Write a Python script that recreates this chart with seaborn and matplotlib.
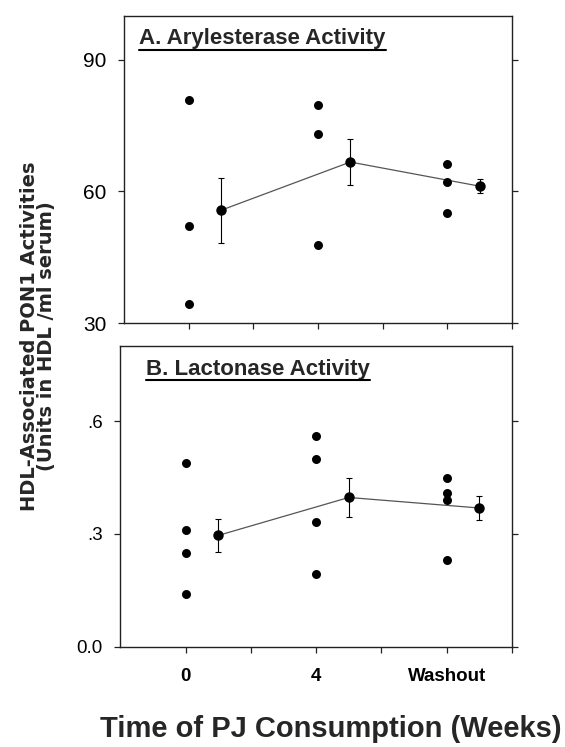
import pandas as pd
import seaborn as sns
import matplotlib.pyplot as plt
from matplotlib.lines import Line2D

# --- data ---
groups = ['0', '4', 'Washout']

aryl_week0 = [80.9, 52.1, 34.3]
aryl_week4 = [79.6, 73.1, 47.7]
aryl_washout = [66.3, 62.2, 55.1]
aryl_mean = [55.7, 66.7, 61.2]
aryl_se = [7.4, 5.3, 1.6]

lact_week0 = [0.488, 0.310, 0.248, 0.139]
lact_week4 = [0.561, 0.499, 0.332, 0.193]
lact_washout = [0.450, 0.410, 0.389, 0.230]
lact_mean = [0.296, 0.397, 0.369]
lact_se = [0.045, 0.053, 0.031]

sns.set_style('ticks')
plt.rcParams['font.family'] = ['Liberation Sans', 'DejaVu Sans']

fig = plt.figure(figsize=(5.65, 7.47), dpi=100)
ax_a = fig.add_axes([0.2195, 0.5676, 0.6865, 0.411])
ax_b = fig.add_axes([0.213, 0.1343, 0.693, 0.4025])


def panel(ax, raw, mean, se, ylim, yticks, yticklabels, ysize, title, tx, ty):
    # raw points at 1, 3, 5 ; group means shifted half a step right
    rows = []
    for i, vals in enumerate(raw):
        for v in vals:
            rows.append({'x': 2 * i + 1, 'y': v})
    df_raw = pd.DataFrame(rows)
    df_mean = pd.DataFrame({'x': [2 * i + 1.5 for i in range(len(mean))],
                            'y': mean, 'se': se})
    sns.scatterplot(data=df_raw, x='x', y='y', ax=ax, color='black',
                    s=42, edgecolor='black', linewidth=0, zorder=3)
    sns.lineplot(data=df_mean, x='x', y='y', ax=ax, color='#555555',
                 linewidth=0.9, zorder=2)
    ax.errorbar(df_mean['x'], df_mean['y'], yerr=df_mean['se'], fmt='o',
                color='black', ms=6.5, elinewidth=0.8, capsize=2.3,
                capthick=0.8, zorder=4)
    ax.set_xlim(0, 6)
    ax.set_ylim(*ylim)
    ax.set_xticks([1, 2, 3, 4, 5, 6])
    ax.set_yticks(yticks)
    ax.set_yticklabels(yticklabels, fontsize=ysize)
    ax.tick_params(axis='both', direction='out', length=4.5, width=0.9,
                   colors='#222222', labelcolor='black', right=True)
    ax.tick_params(axis='y', pad=8)
    for s in ax.spines.values():
        s.set_visible(True)
        s.set_linewidth(1.0)
        s.set_color('#222222')
    ax.set_xlabel('')
    ax.set_ylabel('')
    t = ax.text(tx, ty, title, transform=ax.transAxes, fontsize=16,
                fontweight='bold', ha='left', va='baseline')
    return t


t_a = panel(ax_a, [aryl_week0, aryl_week4, aryl_washout], aryl_mean, aryl_se,
            (30, 100), [30, 60, 90], ['30', '60', '90'], 15,
            'A. Arylesterase Activity', 0.039, 0.908)
t_b = panel(ax_b, [lact_week0, lact_week4, lact_washout], lact_mean, lact_se,
            (0, 0.8), [0.0, 0.3, 0.6], ['0.0', '.3', '.6'], 13.5,
            'B. Lactonase Activity', 0.065, 0.9036)

ax_a.set_xticklabels([])
ax_b.set_xticklabels(['0', '', '4', '', 'Washout', ''], fontsize=13.5,
                     fontweight='bold')
ax_b.tick_params(axis='x', pad=11)

fig.text(0.067, 0.55, 'HDL-Associated PON1 Activities\n(Units in HDL /ml serum)',
         rotation=90, ha='center', va='center', fontsize=14,
         fontweight='bold', family='DejaVu Sans', linespacing=0.88)
fig.text(0.585, 0.0134, 'Time of PJ Consumption (Weeks)', ha='center',
         va='baseline', fontsize=21, fontweight='bold')

# underline the panel titles
fig.canvas.draw()
r = fig.canvas.get_renderer()
W, H = fig.bbox.width, fig.bbox.height
for t in (t_a, t_b):
    bb = t.get_window_extent(renderer=r)
    yb = (bb.y0 - 0.5) / H
    fig.add_artist(Line2D([bb.x0 / W, bb.x1 / W], [yb, yb], color='black',
                          linewidth=1.5))

fig.savefig('out.png', dpi=100)
